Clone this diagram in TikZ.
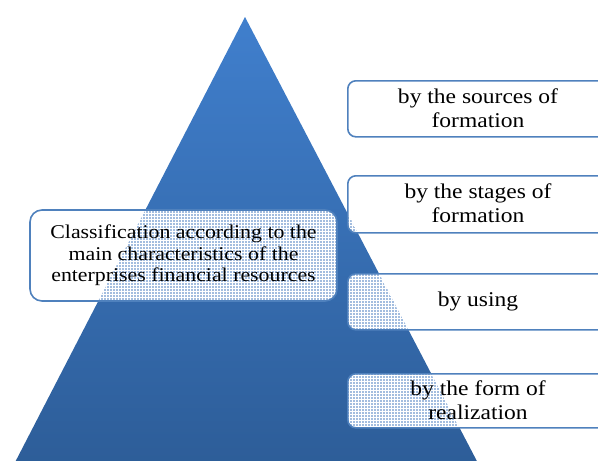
\documentclass[tikz,border=0pt]{standalone}
\usepackage{fontspec}
\setmainfont{Liberation Serif}[FakeStretch=1.12]
\usetikzlibrary{patterns}
\definecolor{pyrtop}{RGB}{64,127,205}
\definecolor{pyrbot}{RGB}{45,93,152}
\definecolor{boxline}{RGB}{79,129,189}
\definecolor{dotblue}{RGB}{70,122,192}
\pgfdeclarepatternformonly{bigdots}{\pgfqpoint{-1.5pt}{-1.5pt}}{\pgfqpoint{1.5pt}{1.5pt}}{\pgfqpoint{3pt}{3pt}}%
  {\pgfpathcircle{\pgfqpoint{0pt}{0pt}}{0.8pt}\pgfusepath{fill}}
\tikzset{
  dotted fill/.style={path picture={
      \clip (apex) -- (bl) -- (br) -- cycle;
      \fill[pattern=bigdots, pattern color=dotblue]
        (path picture bounding box.south west) rectangle (path picture bounding box.north east);
  }},
  catbox/.style={draw=boxline, line width=1.6pt, fill=white, rounded corners=8pt,
    dotted fill, inner sep=0pt, align=center, anchor=north west},
  cattext/.style={font=\fontsize{21}{24}\selectfont, align=center},
  mainbox/.style={draw=boxline, line width=1.6pt, fill=white, rounded corners=12pt,
    dotted fill, inner sep=0pt, align=center,
    font=\fontsize{19.5}{21.3}\selectfont}
}
\begin{document}
\begin{tikzpicture}[x=1pt,y=-1pt]
\useasboundingbox (0,0) rectangle (598,461);
\clip (0,0) rectangle (598,461);
\coordinate (apex) at (245,17);
\coordinate (bl) at (12.6,467);
\coordinate (br) at (480,467);
\shade[top color=pyrtop, bottom color=pyrbot] (apex) -- (bl) -- (br) -- cycle;

\node[mainbox, minimum width=307pt, minimum height=91pt] (main) at (183.5,255.5)
  {Classification according to the\\main characteristics of the\\enterprises financial resources};

\node[catbox, minimum width=263pt, minimum height=56pt] (b1) at (347,80) {};
\node[cattext] (t1) at (478,108) {by the sources of\\formation};
\node[catbox, minimum width=263pt, minimum height=57pt] (b2) at (347,175) {};
\node[cattext] (t2) at (478,203.5) {by the stages of\\formation};
\node[catbox, minimum width=263pt, minimum height=56pt] (b3) at (347,273) {};
\node[cattext] (t3) at (478,301) {by using};
\node[catbox, minimum width=263pt, minimum height=54pt] (b4) at (347,373) {};
\node[cattext] (t4) at (478,400) {by the form of\\realization};
\end{tikzpicture}
\end{document}
